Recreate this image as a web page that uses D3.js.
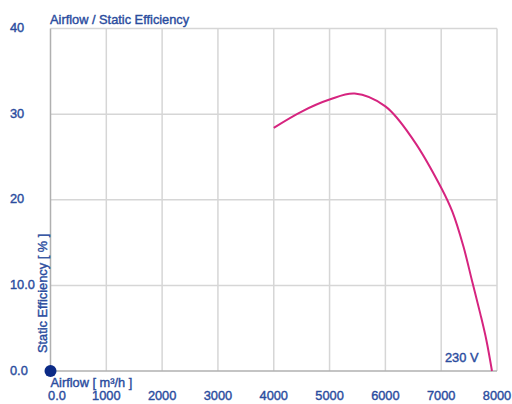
<!DOCTYPE html>
<html><head><meta charset="utf-8">
<script src="https://cdn.jsdelivr.net/npm/d3@7"></script>
<style>body{margin:0;background:#fff;}svg{display:block;}</style>
</head><body><svg id="c" width="512" height="404"></svg>
<script>
const airflow = [4000, 4500, 5000, 5450, 6000, 6500, 7000, 7200, 7400, 7550, 7700, 7810, 7910];
const efficiency = [28.4, 30.3, 31.7, 32.4, 30.9, 27.0, 21.4, 18.6, 14.5, 10.6, 6.7, 3.6, 0];
const xTicks = [0, 1000, 2000, 3000, 4000, 5000, 6000, 7000, 8000];
const xTickLabels = ["0.0", "1000", "2000", "3000", "4000", "5000", "6000", "7000", "8000"];
const yTicks = [0, 10, 20, 30, 40];
const yTickLabels = ["0.0", "10.0", "20", "30", "40"];

const svg = d3.select("#c");
const font = "'Liberation Sans', Arial, sans-serif";
const blue = "#2a4c9e";
const fs = 12.8;
const x = d3.scaleLinear().domain([0, 8000]).range([50.5, 497]);
const y = d3.scaleLinear().domain([0, 40]).range([371, 28.5]);

function styleText(sel) {
  return sel.attr("font-family", font).attr("font-size", fs)
    .attr("fill", blue).attr("stroke", blue).attr("stroke-width", 0.4);
}

// grid
svg.append("g").selectAll("line").data(xTicks.slice(1)).join("line")
  .attr("x1", d => x(d)).attr("x2", d => x(d)).attr("y1", y(40)).attr("y2", y(0))
  .attr("stroke", "#d6d6d6").attr("stroke-width", 1.5);
svg.append("g").selectAll("line").data(yTicks.slice(1)).join("line")
  .attr("x1", x(0)).attr("x2", x(8000)).attr("y1", d => y(d)).attr("y2", d => y(d))
  .attr("stroke", "#d6d6d6").attr("stroke-width", 1.5);
// axes
svg.append("line").attr("x1", x(0)).attr("x2", x(0)).attr("y1", y(40)).attr("y2", y(0))
  .attr("stroke", "#b0b0b0").attr("stroke-width", 1.5);
svg.append("line").attr("x1", x(0)).attr("x2", x(8000)).attr("y1", y(0)).attr("y2", y(0))
  .attr("stroke", "#b0b0b0").attr("stroke-width", 1.5);

// tick labels
styleText(svg.append("g").selectAll("text").data(yTicks).join("text")
  .attr("x", 10).attr("y", d => y(d) + 3.5)
  .text((d, i) => yTickLabels[i]));
styleText(svg.append("g").selectAll("text").data(xTicks).join("text")
  .attr("x", d => d === 0 ? x(d) + 6.5 : x(d)).attr("y", 400)
  .attr("text-anchor", "middle")
  .text((d, i) => xTickLabels[i]));

// titles
styleText(svg.append("text").attr("x", 50).attr("y", 23.5)).text("Airflow / Static Efficiency");
styleText(svg.append("text").attr("x", 50.5).attr("y", 386.5)).text("Airflow [ m³/h ]");
styleText(svg.append("text").attr("transform", "translate(46.5,353) rotate(-90)"))
  .text("Static Efficiency [ % ]");
styleText(svg.append("text").attr("x", 445).attr("y", 361.5)).text("230 V");

// curve
const pts = airflow.map((a, i) => [a, efficiency[i]]);
svg.append("path").datum(pts)
  .attr("d", d3.line().x(d => x(d[0])).y(d => y(d[1])).curve(d3.curveCatmullRom.alpha(0.5)))
  .attr("fill", "none").attr("stroke", "#d6247f").attr("stroke-width", 2);

// origin dot
svg.append("circle").attr("cx", x(0)).attr("cy", y(0)).attr("r", 6).attr("fill", "#0b2a86");
</script></body></html>
